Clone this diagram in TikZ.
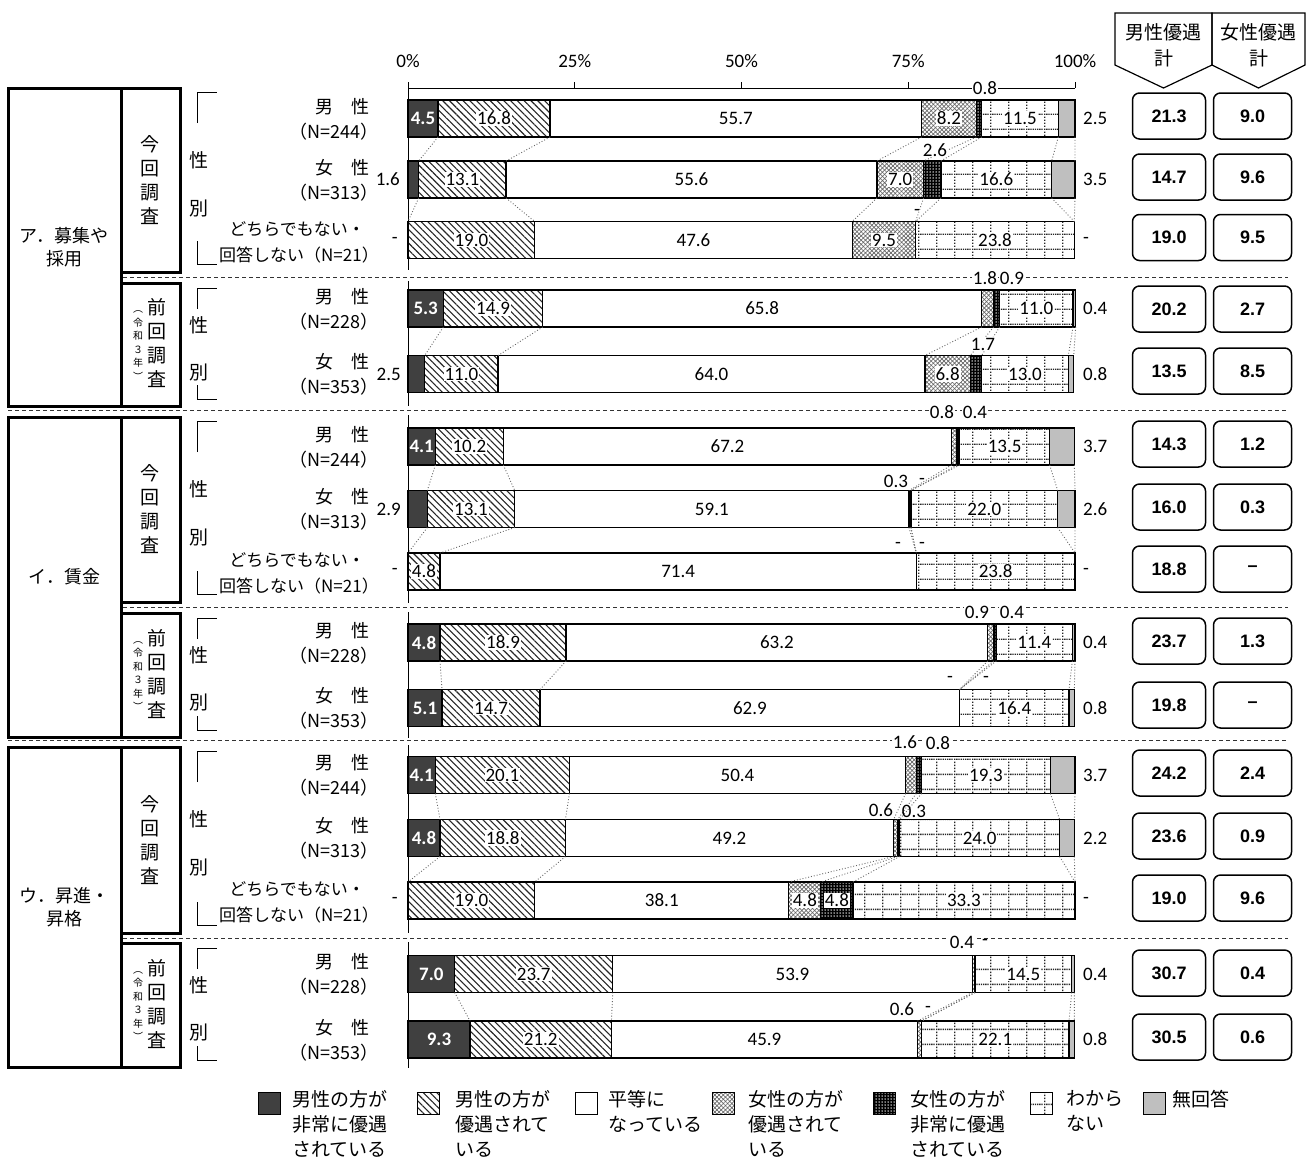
\documentclass[tikz,border=0pt]{standalone}
\usepackage{fontspec}
\setmainfont{Noto Sans CJK JP}
\newfontfamily\numf{Carlito}
\newfontfamily\arf{Liberation Sans}
\usetikzlibrary{patterns,patterns.meta}
\definecolor{cdark}{HTML}{404040}
\definecolor{cgray}{HTML}{BFBFBF}
\pgfdeclarepatternformonly{dotgrid}{\pgfpoint{-0.5pt}{-0.5pt}}{\pgfpoint{18.5pt}{15.5pt}}{\pgfpoint{18pt}{15pt}}{%
  \pgfpathrectangle{\pgfpoint{0pt}{0pt}}{\pgfpoint{1.3pt}{1.3pt}}%
  \pgfpathrectangle{\pgfpoint{2.2pt}{0pt}}{\pgfpoint{1.3pt}{1.3pt}}%
  \pgfpathrectangle{\pgfpoint{4.4pt}{0pt}}{\pgfpoint{1.3pt}{1.3pt}}%
  \pgfpathrectangle{\pgfpoint{6.6pt}{0pt}}{\pgfpoint{1.3pt}{1.3pt}}%
  \pgfpathrectangle{\pgfpoint{8.8pt}{0pt}}{\pgfpoint{1.3pt}{1.3pt}}%
  \pgfpathrectangle{\pgfpoint{11pt}{0pt}}{\pgfpoint{1.3pt}{1.3pt}}%
  \pgfpathrectangle{\pgfpoint{13.2pt}{0pt}}{\pgfpoint{1.3pt}{1.3pt}}%
  \pgfpathrectangle{\pgfpoint{15.4pt}{0pt}}{\pgfpoint{1.3pt}{1.3pt}}%
  \pgfpathrectangle{\pgfpoint{0pt}{3pt}}{\pgfpoint{1.3pt}{1.3pt}}%
  \pgfpathrectangle{\pgfpoint{0pt}{6pt}}{\pgfpoint{1.3pt}{1.3pt}}%
  \pgfpathrectangle{\pgfpoint{0pt}{9pt}}{\pgfpoint{1.3pt}{1.3pt}}%
  \pgfpathrectangle{\pgfpoint{0pt}{12pt}}{\pgfpoint{1.3pt}{1.3pt}}%
  \pgfusepath{fill}%
}
\tikzset{
  seg1/.style={fill=cdark},
  seg2/.style={pattern={Lines[angle=-45,distance=4.8pt,line width=1.1pt]},pattern color=black!85},
  seg3/.style={fill=white},
  seg4/.style={pattern={Lines[angle=45,distance=3pt,line width=.7pt]},pattern color=black!60,
    postaction={pattern={Lines[angle=-45,distance=3pt,line width=.7pt]},pattern color=black!60}},
  seg5/.style={fill=black,postaction={pattern={Dots[distance=3pt,radius=.75pt]},pattern color=white}},
  seg6/.style={pattern=dotgrid,pattern color=black!85},
  seg7/.style={fill=cgray},
  segborder/.style={draw=black,line width=1.2pt},
  serline/.style={draw=black!60,line width=0.9pt,dotted},
  num/.style={font=\numf\fontsize{19}{22}\selectfont,inner sep=1pt},
  numbg/.style={num,fill=white},
  numw/.style={font=\numf\bfseries\fontsize{19}{22}\selectfont,text=white,inner sep=1pt},
  jp/.style={font=\fontsize{18}{24}\selectfont,inner sep=0pt},
  jps/.style={font=\fontsize{17}{24}\selectfont,inner sep=0pt},
  jpb/.style={font=\fontsize{19}{24}\selectfont,inner sep=0pt,align=center},
  thick box/.style={draw=black,line width=3pt},
  sep/.style={draw=black!80,line width=1pt,dash pattern=on 4pt off 3pt},
  brk/.style={draw=black,line width=0.9pt},
  tot/.style={draw=black,line width=1.5pt,rounded corners=7pt,minimum height=46,
    font=\arf\bfseries\fontsize{18}{20}\selectfont},
  leg/.style={font=\fontsize{19}{25}\selectfont,align=left,anchor=north west,inner sep=0pt},
}
\newcommand\drawrow[3]{%
  \gdef\cum{0}%
  \foreach \v [count=\k] in {#3}{%
    \pgfmathsetmacro\xa{408+6.67*\cum}%
    \pgfmathsetmacro\xb{408+6.67*(\cum+\v)}%
    \pgfmathsetmacro\nc{\cum+\v}\xdef\cum{\nc}%
    \ifdim\v pt>0pt
      \path[seg\k] (\xa,#2-18.5) rectangle (\xb,#2+18.5);
      \draw[segborder] (\xa,#2-18.5) rectangle (\xb,#2+18.5);
    \fi
    \coordinate (#1-\k-t) at (\xb,#2-18.5);
    \coordinate (#1-\k-b) at (\xb,#2+18.5);
    \coordinate (#1-\k-m) at ({(\xa+\xb)/2},#2);
  }%
}
\newcommand\serlines[2]{\foreach \k in {1,...,7}{\draw[serline] (#1-\k-b) -- (#2-\k-t);}}
\newcommand\tots[4]{%
  \node[tot,minimum width=73] (#1a) at (1169,#2) {#3};
  \node[tot,minimum width=78] (#1b) at (1252.5,#2) {#4};
}
\newcommand\sexlbl[4]{% name, y, label, N
  \node[jp] (#1s) at (342,#2-12) {#3};
  \node[jp,anchor=east] (#1n) at (379,#2+13) {#4};
}
\newcommand\othlbl[2]{%
  \node[jps] (#1s) at (297,#2-11) {どちらでもない・};
  \node[jps,anchor=east] (#1n) at (379,#2+15) {回答しない（N=21）};
}
\newcommand\konkai[3]{% name, top, bottom
  \draw[thick box] (121,#2) rectangle (180,#3);
  \node[jpb,font=\fontsize{19}{24}\selectfont] (#1k) at (150,{(#2+#3)/2}) {今\\回\\調\\査};
  \draw[brk] (197,#2+35) -- (197,#2+4) -- (217,#2+4);
  \draw[brk] (197,#3-31) -- (197,#3-8) -- (217,#3-8);
  \node[jpb] (#1x) at (199,#2+72) {性};
  \node[jpb] (#1y) at (199,#2+120) {別};
}
\newcommand\zenkai[3]{% name, top, bottom
  \draw[thick box] (121,#2) rectangle (180,#3);
  \node[jpb] (#1k) at (157,{(#2+#3)/2-1}) {前\\回\\調\\査};
  \node[jpb,font=\fontsize{10}{13.5}\selectfont] (#1w) at (138,{(#2+#3)/2+1}) {︵\\令\\和\\３\\年\\︶};
  \draw[brk] (197,#2+26) -- (197,#2+5) -- (217,#2+5);
  \draw[brk] (197,#3-21) -- (197,#3-7) -- (217,#3-7);
  \node[jpb] (#1x) at (199,#2+42) {性};
  \node[jpb] (#1y) at (199,#2+89) {別};
}
\begin{document}
\begin{tikzpicture}[x=1pt,y=-1pt]
\useasboundingbox[fill=white] (0,0) rectangle (1313,1165);
% axis
\draw[line width=1pt] (408,88) -- (1075,88);
\foreach \p/\t [count=\i] in {0/0\%,25/25\%,50/50\%,75/75\%,100/100\%}{
  \draw[line width=1pt] ({408+6.67*\p},82) -- ({408+6.67*\p},88);
  \node[num] (tick\i) at ({408+6.67*\p},61) {\t};
}
\foreach \a/\b in {82/270,281/406,415/603,612/738,745/933,942/1068}{
  \draw[line width=1pt] (408,\a) -- (408,\b);
}
% separators
\draw[sep] (123,277) -- (1288,277);
\draw[sep] (8,410) -- (1288,410);
\draw[sep] (123,607) -- (1288,607);
\draw[sep] (8,740) -- (1288,740);
\draw[sep] (123,938) -- (1288,938);
% left boxes
\draw[thick box] (8,88) rectangle (121,406);
\node[jpb,font=\fontsize{18}{23}\selectfont] (catA) at (64,247) {ア．募集や\\採用};
\konkai{A1}{88}{272}
\zenkai{A2}{283}{406}
\draw[thick box] (8,417) rectangle (121,737);
\node[jpb,font=\fontsize{18}{23}\selectfont] (catB) at (64,577) {イ．賃金};
\konkai{B1}{417}{602}
\zenkai{B2}{613}{737}
\draw[thick box] (8,747) rectangle (121,1067);
\node[jpb,font=\fontsize{18}{23}\selectfont] (catC) at (64,907) {ウ．昇進・\\昇格};
\konkai{C1}{747}{933}
\zenkai{C2}{943}{1067}
% row labels
\sexlbl{L1}{118.5}{男　性}{（N=244）}
\sexlbl{L2}{179.5}{女　性}{（N=313）}
\othlbl{L3}{240}
\sexlbl{L4}{308.5}{男　性}{（N=228）}
\sexlbl{L5}{374}{女　性}{（N=353）}
\sexlbl{L6}{446.5}{男　性}{（N=244）}
\sexlbl{L7}{509}{女　性}{（N=313）}
\othlbl{L8}{571.5}
\sexlbl{L9}{642.5}{男　性}{（N=228）}
\sexlbl{L10}{708}{女　性}{（N=353）}
\sexlbl{L11}{775}{男　性}{（N=244）}
\sexlbl{L12}{838}{女　性}{（N=313）}
\othlbl{L13}{900.5}
\sexlbl{L14}{974}{男　性}{（N=228）}
\sexlbl{L15}{1039.5}{女　性}{（N=353）}
% bars
\drawrow{r1}{118.5}{4.5,16.8,55.7,8.2,0.8,11.5,2.5}
\drawrow{r2}{179.5}{1.6,13.1,55.6,7.0,2.6,16.6,3.5}
\drawrow{r3}{240}{0,19.0,47.6,9.5,0,23.8,0}
\drawrow{r4}{308.5}{5.3,14.9,65.8,1.8,0.9,11.0,0.4}
\drawrow{r5}{374}{2.5,11.0,64.0,6.8,1.7,13.0,0.8}
\drawrow{r6}{446.5}{4.1,10.2,67.2,0.8,0.4,13.5,3.7}
\drawrow{r7}{509}{2.9,13.1,59.1,0.3,0,22.0,2.6}
\drawrow{r8}{571.5}{0,4.8,71.4,0,0,23.8,0}
\drawrow{r9}{642.5}{4.8,18.9,63.2,0.9,0.4,11.4,0.4}
\drawrow{r10}{708}{5.1,14.7,62.9,0,0,16.4,0.8}
\drawrow{r11}{775}{4.1,20.1,50.4,1.6,0.8,19.3,3.7}
\drawrow{r12}{838}{4.8,18.8,49.2,0.6,0.3,24.0,2.2}
\drawrow{r13}{900.5}{0,19.0,38.1,4.8,4.8,33.3,0}
\drawrow{r14}{974}{7.0,23.7,53.9,0.4,0,14.5,0.4}
\drawrow{r15}{1039.5}{9.3,21.2,45.9,0.6,0,22.1,0.8}
\serlines{r1}{r2}\serlines{r2}{r3}\serlines{r4}{r5}
\serlines{r6}{r7}\serlines{r7}{r8}\serlines{r9}{r10}
\serlines{r11}{r12}\serlines{r12}{r13}\serlines{r14}{r15}
% inside labels
\node[numw] (v1a) at (r1-1-m) {4.5};
\node[numbg] (v1b) at (r1-2-m) {16.8};
\node[num] (v1c) at (r1-3-m) {55.7};
\node[numbg] (v1d) at (r1-4-m) {8.2};
\node[numbg] (v1f) at (r1-6-m) {11.5};
\node[numbg] (v2b) at (r2-2-m) {13.1};
\node[num] (v2c) at (r2-3-m) {55.6};
\node[numbg] (v2d) at (r2-4-m) {7.0};
\node[numbg] (v2f) at (r2-6-m) {16.6};
\node[numbg] (v3b) at (r3-2-m) {19.0};
\node[num] (v3c) at (r3-3-m) {47.6};
\node[numbg] (v3d) at (r3-4-m) {9.5};
\node[numbg] (v3f) at (r3-6-m) {23.8};
\node[numw] (v4a) at (r4-1-m) {5.3};
\node[numbg] (v4b) at (r4-2-m) {14.9};
\node[num] (v4c) at (r4-3-m) {65.8};
\node[numbg] (v4f) at (r4-6-m) {11.0};
\node[numbg] (v5b) at (r5-2-m) {11.0};
\node[num] (v5c) at (r5-3-m) {64.0};
\node[numbg] (v5d) at (r5-4-m) {6.8};
\node[numbg] (v5f) at (r5-6-m) {13.0};
\node[numw] (v6a) at (r6-1-m) {4.1};
\node[numbg] (v6b) at (r6-2-m) {10.2};
\node[num] (v6c) at (r6-3-m) {67.2};
\node[numbg] (v6f) at (r6-6-m) {13.5};
\node[numbg] (v7b) at (r7-2-m) {13.1};
\node[num] (v7c) at (r7-3-m) {59.1};
\node[numbg] (v7f) at (r7-6-m) {22.0};
\node[numbg] (v8b) at (r8-2-m) {4.8};
\node[num] (v8c) at (r8-3-m) {71.4};
\node[numbg] (v8f) at (r8-6-m) {23.8};
\node[numw] (v9a) at (r9-1-m) {4.8};
\node[numbg] (v9b) at (r9-2-m) {18.9};
\node[num] (v9c) at (r9-3-m) {63.2};
\node[numbg] (v9f) at (r9-6-m) {11.4};
\node[numw] (v10a) at (r10-1-m) {5.1};
\node[numbg] (v10b) at (r10-2-m) {14.7};
\node[num] (v10c) at (r10-3-m) {62.9};
\node[numbg] (v10f) at (r10-6-m) {16.4};
\node[numw] (v11a) at (r11-1-m) {4.1};
\node[numbg] (v11b) at (r11-2-m) {20.1};
\node[num] (v11c) at (r11-3-m) {50.4};
\node[numbg] (v11f) at (r11-6-m) {19.3};
\node[numw] (v12a) at (r12-1-m) {4.8};
\node[numbg] (v12b) at (r12-2-m) {18.8};
\node[num] (v12c) at (r12-3-m) {49.2};
\node[numbg] (v12f) at (r12-6-m) {24.0};
\node[numbg] (v13b) at (r13-2-m) {19.0};
\node[num] (v13c) at (r13-3-m) {38.1};
\node[numbg] (v13d) at (r13-4-m) {4.8};
\node[numbg] (v13e) at (r13-5-m) {4.8};
\node[numbg] (v13f) at (r13-6-m) {33.3};
\node[numw] (v14a) at (r14-1-m) {7.0};
\node[numbg] (v14b) at (r14-2-m) {23.7};
\node[num] (v14c) at (r14-3-m) {53.9};
\node[numbg] (v14f) at (r14-6-m) {14.5};
\node[numw] (v15a) at (r15-1-m) {9.3};
\node[numbg] (v15b) at (r15-2-m) {21.2};
\node[num] (v15c) at (r15-3-m) {45.9};
\node[numbg] (v15f) at (r15-6-m) {22.1};
% small labels near thin segments
\node[numbg] (s1) at (985,88) {0.8};
\node[numbg] (s2) at (935,150) {2.6};
\node[num] (s3) at (917,212) {-};
\node[numbg] (s4a) at (985,278) {1.8};
\node[numbg] (s4b) at (1012,278) {0.9};
\node[numbg] (s5) at (983,344) {1.7};
\node[numbg] (s6a) at (942,412) {0.8};
\node[numbg] (s6b) at (975,412) {0.4};
\node[num] (s7a) at (896,481) {0.3};
\node[num] (s7b) at (922,481) {-};
\node[num] (s8a) at (898,545) {-};
\node[num] (s8b) at (922,545) {-};
\node[numbg] (s9a) at (977,612) {0.9};
\node[numbg] (s9b) at (1012,612) {0.4};
\node[num] (s10a) at (950,679) {-};
\node[num] (s10b) at (986,679) {-};
\node[numbg] (s11a) at (905,742) {1.6};
\node[numbg] (s11b) at (938,743) {0.8};
\node[num] (s12a) at (881,810) {0.6};
\node[num] (s12b) at (914,811) {0.3};
\node[numbg] (s14a) at (962,942) {0.4};
\node[num] (s14b) at (985,942) {-};
\node[num] (s15a) at (902,1009) {0.6};
\node[num] (s15b) at (928,1009) {-};
% outside right labels
\foreach \y/\t [count=\i] in {118.5/2.5,179.5/3.5,240/-,308.5/0.4,374/0.8,446.5/3.7,509/2.6,571.5/-,642.5/0.4,708/0.8,775/3.7,838/2.2,900.5/-,974/0.4,1039.5/0.8}{
  \node[num,anchor=west] (o\i) at (1082,\y) {\t};
}
% outside left labels
\node[num,anchor=east] (l2) at (401,179.5) {1.6};
\node[num,anchor=east] (l3) at (399,240) {-};
\node[num,anchor=east] (l5) at (402,374) {2.5};
\node[num,anchor=east] (l7) at (402,509) {2.9};
\node[num,anchor=east] (l8) at (399,571.5) {-};
\node[num,anchor=east] (l13) at (399,900.5) {-};
% headers
\draw[line width=1.2pt] (1115,13) -- (1212,13) -- (1212,65) -- (1163.5,88) -- (1115,65) -- cycle;
\draw[line width=1.2pt] (1212,13) -- (1305,13) -- (1305,65) -- (1258.5,88) -- (1212,65) -- cycle;
\node[jpb,font=\fontsize{19}{26}\selectfont] (h1) at (1163.5,45) {男性優遇\\計};
\node[jpb,font=\fontsize{19}{26}\selectfont] (h2) at (1258.5,45) {女性優遇\\計};
% totals
\tots{t1}{116}{21.3}{9.0}
\tots{t2}{177}{14.7}{9.6}
\tots{t3}{237.5}{19.0}{9.5}
\tots{t4}{309}{20.2}{2.7}
\tots{t5}{371}{13.5}{8.5}
\tots{t6}{444}{14.3}{1.2}
\tots{t7}{507}{16.0}{0.3}
\tots{t8}{569}{18.8}{–}
\tots{t9}{641}{23.7}{1.3}
\tots{t10}{705}{19.8}{–}
\tots{t11}{773}{24.2}{2.4}
\tots{t12}{836}{23.6}{0.9}
\tots{t13}{898}{19.0}{9.6}
\tots{t14}{973}{30.7}{0.4}
\tots{t15}{1037}{30.5}{0.6}
% legend
\foreach \x/\k/\tx/\lx [count=\i] in {
  258/1/{男性の方が\\非常に優遇\\されている}/292,
  417/2/{男性の方が\\優遇されて\\いる}/455,
  575/3/{平等に\\なっている}/608,
  712/4/{女性の方が\\優遇されて\\いる}/748,
  873/5/{女性の方が\\非常に優遇\\されている}/910,
  1030/6/{わから\\ない}/1066,
  1143/7/{無回答}/1172}{
  \path[seg\k] (\x,1092) rectangle (\x+22,1114);
  \draw[draw=black,line width=1pt] (\x,1092) rectangle (\x+22,1114);
  \node[leg] (lg\i) at (\lx,1090) {\tx};
}
\end{tikzpicture}
\end{document}
